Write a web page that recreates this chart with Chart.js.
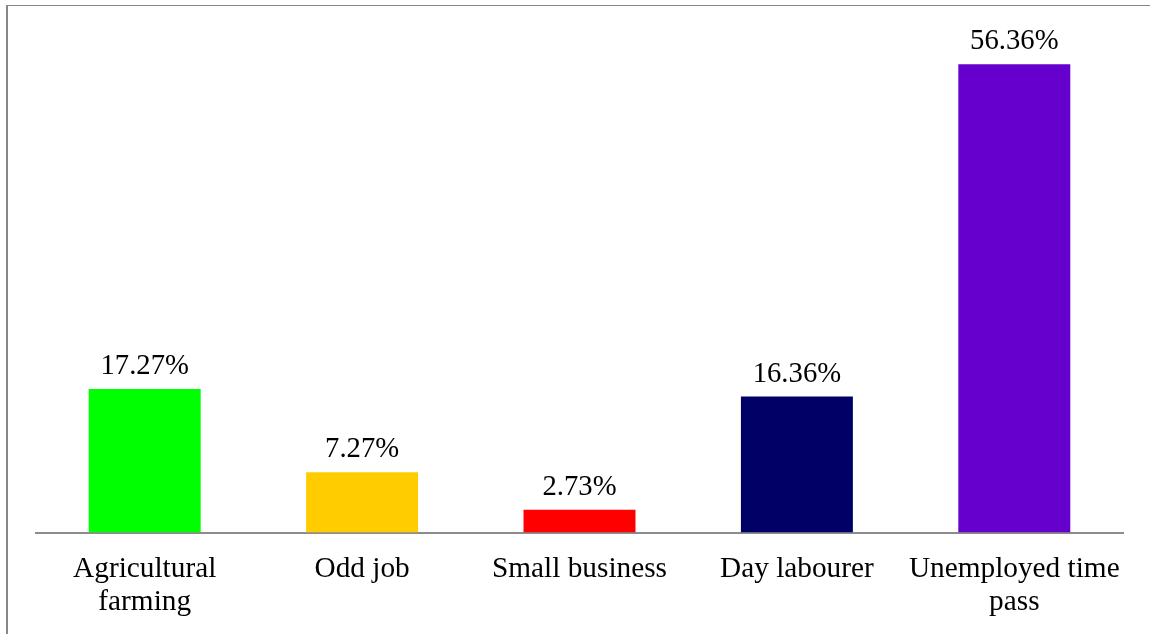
<!DOCTYPE html>
<html>
<head>
<meta charset="utf-8">
<script src="https://cdn.jsdelivr.net/npm/chart.js@4"></script>
<style>
  html, body { margin: 0; padding: 0; background: #fff; overflow: hidden; }
  #wrap { position: relative; width: 1150px; height: 634px; overflow: hidden; }
  #frame {
    position: absolute; left: 6px; top: 5px; right: 0; bottom: 0;
    border-left: 2px solid #878787; border-top: 1px solid #878787;
    pointer-events: none;
  }
  canvas { position: absolute; left: 0; top: 0; }
</style>
</head>
<body>
<div id="wrap">
  <canvas id="jobs-chart" width="1150" height="639"></canvas>
  <div id="frame"></div>
</div>
<script>
const categories = [
  ["Agricultural", "farming"],
  "Odd job",
  "Small business",
  "Day labourer",
  ["Unemployed time", "pass"],
];
const shares = [17.27, 7.27, 2.73, 16.36, 56.36];
const barColors = ["#00FF00", "#FFCC00", "#FF0000", "#000066", "#6600CC"];

const FONT = "'Liberation Serif', 'Times New Roman', serif";

// writes the percentage above each bar
const valueLabels = {
  id: "valueLabels",
  afterDatasetsDraw(chart) {
    const ctx = chart.ctx;
    const meta = chart.getDatasetMeta(0);
    ctx.save();
    ctx.font = "28.7px " + FONT;
    ctx.fillStyle = "#000";
    ctx.textAlign = "center";
    ctx.textBaseline = "alphabetic";
    meta.data.forEach((bar, i) => {
      ctx.fillText(shares[i].toFixed(2) + "%", bar.x, bar.y - 15);
    });
    ctx.restore();
  },
};

document.addEventListener("DOMContentLoaded", function () {
  const ctx = document.getElementById("jobs-chart").getContext("2d");
  new Chart(ctx, {
    type: "bar",
    data: {
      labels: categories,
      datasets: [
        {
          data: shares,
          backgroundColor: barColors,
          borderWidth: 0,
          categoryPercentage: 1,
          barPercentage: 0.515,
        },
      ],
    },
    options: {
      responsive: false,
      animation: false,
      layout: { padding: { left: 36, right: 27, top: 34, bottom: 0 } },
      plugins: {
        legend: { display: false },
        tooltip: { enabled: false },
      },
      scales: {
        x: {
          grid: { display: false, drawTicks: false },
          border: { display: true, color: "#8c8c8c", width: 2 },
          ticks: {
            color: "#000",
            padding: 21,
            maxRotation: 0,
            autoSkip: false,
            font: { family: FONT, size: 29.3, lineHeight: 1.1 },
          },
        },
        y: {
          display: false,
          min: 0,
          max: 60,
        },
      },
    },
    plugins: [valueLabels],
  });
});
</script>
</body>
</html>
